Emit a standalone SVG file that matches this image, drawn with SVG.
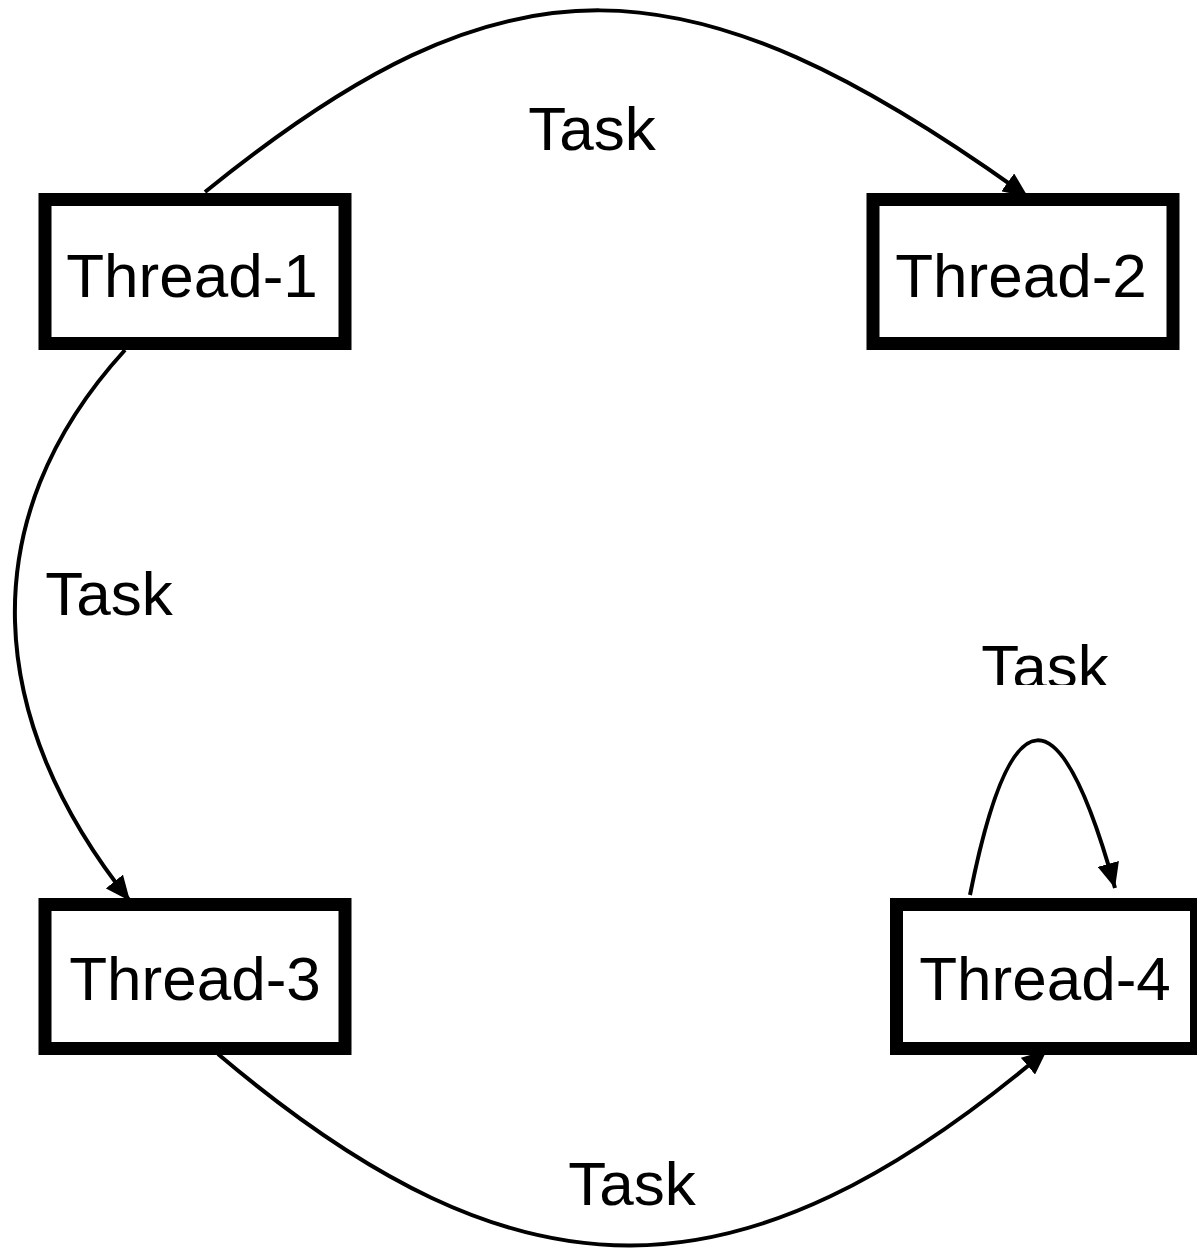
<svg xmlns="http://www.w3.org/2000/svg" width="1197" height="1249" viewBox="0 0 1197 1249">
<style>
.box{fill:#fff;stroke:#000;stroke-width:13}
.lbl{font-family:"Liberation Sans",Arial,sans-serif;font-size:62px;fill:#000;text-anchor:middle}
.edge{fill:none;stroke:#000;stroke-width:4;marker-end:url(#arr)}
</style>
<defs>
<marker id="arr" markerUnits="userSpaceOnUse" markerWidth="26" markerHeight="22" refX="25" refY="11" orient="auto" viewBox="0 0 26 22">
<path d="M0,0 L25,11 L0,22 Z" fill="#000"/>
</marker>
<clipPath id="cut"><rect x="900" y="600" width="297" height="85"/></clipPath>
</defs>
<g id="connectors">
<path class="edge" d="M205,192 C505,-51 684,-51 1028,197"/>
<path class="edge" d="M125,350 C-30,520 -15,720 130,901"/>
<path class="edge" d="M218,1054 C520,1310 740,1310 1047,1050"/>
<path class="edge" d="M970,895 C1011,690 1060,690 1115,888"/>
<text class="lbl" x="592" y="150">Task</text>
<text class="lbl" x="109" y="615">Task</text>
<text class="lbl" x="1045" y="688" clip-path="url(#cut)">Task</text>
<text class="lbl" x="632" y="1205">Task</text>
</g>
<g id="thread1"><rect class="box" x="45" y="199.5" width="300" height="144"/><text class="lbl" x="192" y="297">Thread-1</text></g>
<g id="thread2"><rect class="box" x="873" y="199.5" width="300" height="144"/><text class="lbl" x="1021" y="297">Thread-2</text></g>
<g id="thread3"><rect class="box" x="45" y="904.5" width="300" height="144"/><text class="lbl" x="195" y="1000">Thread-3</text></g>
<g id="thread4"><rect class="box" x="896.5" y="904.5" width="300" height="144"/><text class="lbl" x="1045" y="1000">Thread-4</text></g>
</svg>
